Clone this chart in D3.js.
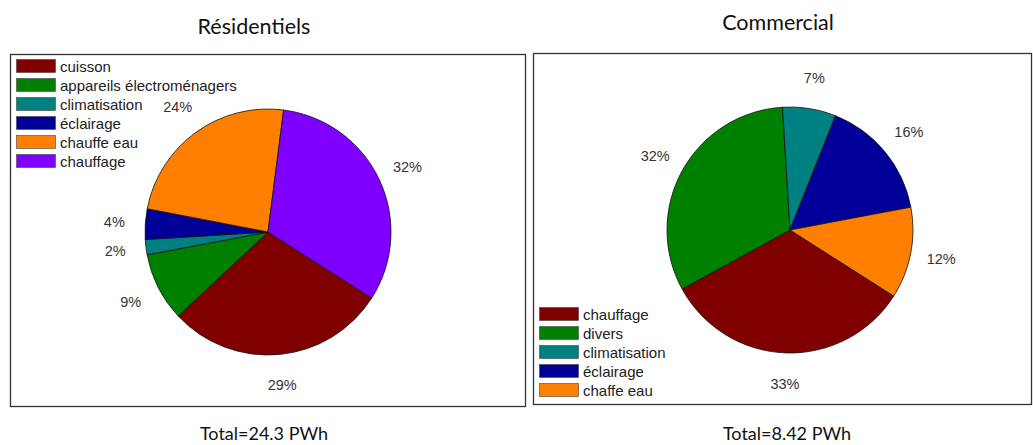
<!DOCTYPE html>
<html>
<head>
<meta charset="utf-8">
<script src="https://cdn.jsdelivr.net/npm/d3@7"></script>
<style>
  html, body { margin: 0; padding: 0; background: #fff; }
  svg { display: block; }
</style>
</head>
<body>
<div id="chart"></div>
<script>
// --- Data ---
const resCategories = ['cuisson', 'appareils électroménagers', 'climatisation', 'éclairage', 'chauffe eau', 'chauffage'];
const resValues = [29, 9, 2, 4, 24, 32];
const resColors = ['#800000', '#008000', '#008080', '#000099', '#ff8000', '#8000ff'];

const comCategories = ['chauffage', 'divers', 'climatisation', 'éclairage', 'chaffe eau'];
const comValues = [33, 32, 7, 16, 12];
const comColors = ['#800000', '#008000', '#008080', '#000099', '#ff8000'];

const titles = ['Résidentiels', 'Commercial'];
const totals = ['Total=24.3 PWh', 'Total=8.42 PWh'];

const width = 1033;
const height = 445;

const svg = d3.select('#chart')
  .append('svg')
  .attr('width', width)
  .attr('height', height);

// panel layout
const panels = [
  {
    cats: resCategories, vals: resValues, colors: resColors,
    title: titles[0], total: totals[0],
    box: { x: 10.5, y: 54.5, w: 515, h: 352 },
    cx: 268, cy: 232, titleX: 254, titleY: 26, totalX: 264,
    legend: { x: 16, y: 59 }
  },
  {
    cats: comCategories, vals: comValues, colors: comColors,
    title: titles[1], total: totals[1],
    box: { x: 533.5, y: 53.5, w: 498, h: 351 },
    cx: 790, cy: 230, titleX: 778, titleY: 22, totalX: 787,
    legend: { x: 539, y: 307 }
  }
];

const radius = 123;
const labelRadius = 154;
const startDeg = 122.5;

panels.forEach(p => {
  const g = svg.append('g');

  // frame
  g.append('rect')
    .attr('x', p.box.x).attr('y', p.box.y)
    .attr('width', p.box.w).attr('height', p.box.h)
    .attr('fill', 'none')
    .attr('stroke', '#333')
    .attr('stroke-width', 1.3);

  // titles
  g.append('text')
    .attr('x', p.titleX).attr('y', p.titleY)
    .attr('text-anchor', 'middle')
    .attr('dominant-baseline', 'central')
    .attr('font-family', 'Lato, "Open Sans", sans-serif')
    .attr('font-size', 21.5)
    .attr('fill', '#111')
    .text(p.title);

  g.append('text')
    .attr('x', p.totalX).attr('y', 433)
    .attr('text-anchor', 'middle')
    .attr('dominant-baseline', 'central')
    .attr('font-family', 'Lato, "Open Sans", sans-serif')
    .attr('font-size', 18)
    .attr('fill', '#111')
    .text(p.total);

  // pie
  const total = d3.sum(p.vals);
  const start = startDeg * Math.PI / 180;
  const pie = d3.pie().sort(null).value(d => d)
    .startAngle(start).endAngle(start + 2 * Math.PI);
  const arcs = pie(p.vals);
  const arc = d3.arc().innerRadius(0).outerRadius(radius);
  const labelArc = d3.arc().innerRadius(labelRadius).outerRadius(labelRadius);

  const pieG = g.append('g').attr('transform', `translate(${p.cx},${p.cy})`);

  pieG.selectAll('path')
    .data(arcs)
    .enter()
    .append('path')
    .attr('d', arc)
    .attr('fill', (d, i) => p.colors[i])
    .attr('stroke', '#111')
    .attr('stroke-width', 0.8);

  pieG.selectAll('text')
    .data(arcs)
    .enter()
    .append('text')
    .attr('transform', d => `translate(${labelArc.centroid(d)})`)
    .attr('text-anchor', 'middle')
    .attr('dominant-baseline', 'central')
    .attr('font-family', '"Liberation Sans", Arial, sans-serif')
    .attr('font-size', 14.5)
    .attr('fill', '#333')
    .text(d => Math.round(d.value / total * 100) + '%');

  // legend
  const rowH = 19;
  const legend = g.append('g')
    .attr('transform', `translate(${p.legend.x},${p.legend.y})`);

  const rows = legend.selectAll('g')
    .data(p.cats)
    .enter()
    .append('g')
    .attr('transform', (d, i) => `translate(0,${i * rowH})`);

  rows.append('rect')
    .attr('x', 0.5).attr('y', 0.5)
    .attr('width', 39).attr('height', 13)
    .attr('fill', (d, i) => p.colors[i])
    .attr('stroke', '#444')
    .attr('stroke-width', 0.6);

  rows.append('text')
    .attr('x', 44).attr('y', 7)
    .attr('dominant-baseline', 'central')
    .attr('font-family', '"Liberation Sans", Arial, sans-serif')
    .attr('font-size', 15)
    .attr('fill', '#222')
    .text(d => d);
});
</script>
</body>
</html>
